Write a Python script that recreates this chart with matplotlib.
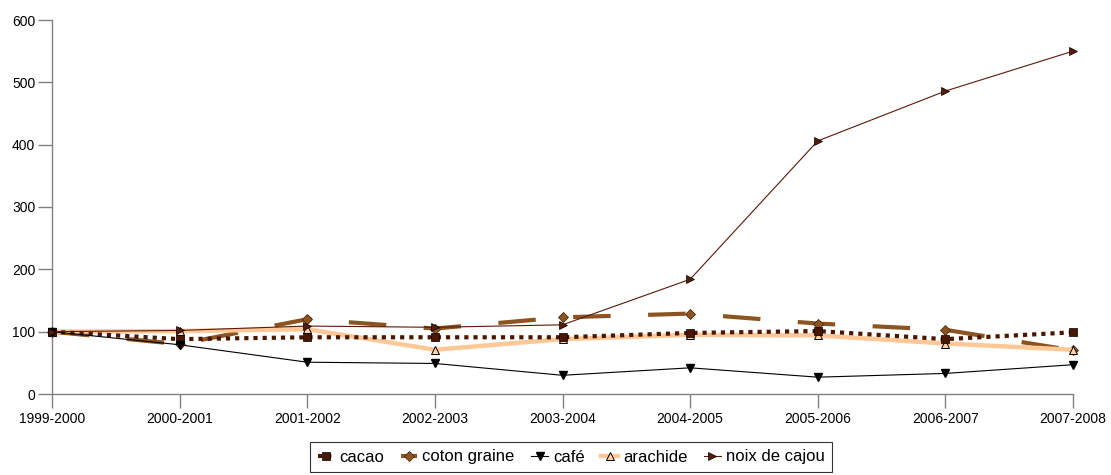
import matplotlib
matplotlib.use("Agg")
import matplotlib.pyplot as plt

plt.rcParams["font.family"] = ["Liberation Sans", "DejaVu Sans"]

seasons = ["1999-2000", "2000-2001", "2001-2002", "2002-2003", "2003-2004",
           "2004-2005", "2005-2006", "2006-2007", "2007-2008"]
cacao = [100, 88, 91, 91, 91, 98, 101, 88, 99]
coton = [100, 80, 120, 105, 123, 129, 113, 103, 70]
cafe = [100, 79, 51, 49, 30, 42, 27, 33, 47]
arachide = [100, 101, 104, 71, 88, 95, 94, 81, 71]
cajou = [100, 102, 109, 107, 111, 184, 406, 486, 550]

AXIS_GRAY = "#808080"

fig = plt.figure(figsize=(11.11, 4.75), dpi=100)
ax = fig.add_axes([52 / 1111, 1 - 394 / 475, (1073 - 52) / 1111, (394 - 20) / 475])

x = list(range(len(seasons)))

ax.plot(x, coton, color="#8c5420", linewidth=3, dashes=(9, 9),
        marker="D", markersize=5, markerfacecolor="#8c5420",
        markeredgecolor="#4d2a08", markeredgewidth=0.6, label="coton graine", zorder=3)
ax.plot(x, arachide, color="#ffc896", linewidth=3.2,
        marker="^", markersize=6, markerfacecolor="#ffd2a6",
        markeredgecolor="black", markeredgewidth=0.7, label="arachide", zorder=3)
ax.plot(x, cacao, color="#4a1600", linewidth=3, linestyle=(0, (1, 1.2)),
        marker="s", markersize=6, markerfacecolor="#4a1600",
        markeredgecolor="black", markeredgewidth=0.5, label="cacao", zorder=4)
ax.plot(x, cafe, color="black", linewidth=0.8,
        marker="v", markersize=6, markerfacecolor="black",
        markeredgecolor="black", label="café", zorder=5)
ax.plot(x, cajou, color="#5a1a0a", linewidth=0.8,
        marker=">", markersize=6, markerfacecolor="#5a1a0a",
        markeredgecolor="black", markeredgewidth=0.5, label="noix de cajou", zorder=5)

ax.set_xlim(0, len(seasons) - 1)
ax.set_ylim(0, 600)
ax.set_yticks(range(0, 601, 100))
ax.set_xticks(x)
ax.set_xticklabels(seasons)

for side in ("top", "right"):
    ax.spines[side].set_visible(False)
for side in ("left", "bottom"):
    ax.spines[side].set_color(AXIS_GRAY)
    ax.spines[side].set_linewidth(1)
ax.tick_params(axis="both", direction="out", length=10, width=1, color=AXIS_GRAY,
               labelsize=10, labelcolor="black")
ax.tick_params(axis="y", pad=2)
ax.tick_params(axis="x", pad=3)
for line in ax.lines:
    line.set_clip_on(False)

handles, labels = ax.get_legend_handles_labels()
order = ["cacao", "coton graine", "café", "arachide", "noix de cajou"]
hmap = dict(zip(labels, handles))
leg = fig.legend([hmap[k] for k in order], order, loc="center",
                 bbox_to_anchor=(571 / 1111, 1 - 457 / 475), ncol=5,
                 fontsize=12, frameon=True, fancybox=False, handlelength=1.0,
                 handletextpad=0.3, columnspacing=1.0, borderpad=0.45)
leg.get_frame().set_edgecolor("black")
leg.get_frame().set_linewidth(0.8)

fig.savefig("out.png", dpi=100)
